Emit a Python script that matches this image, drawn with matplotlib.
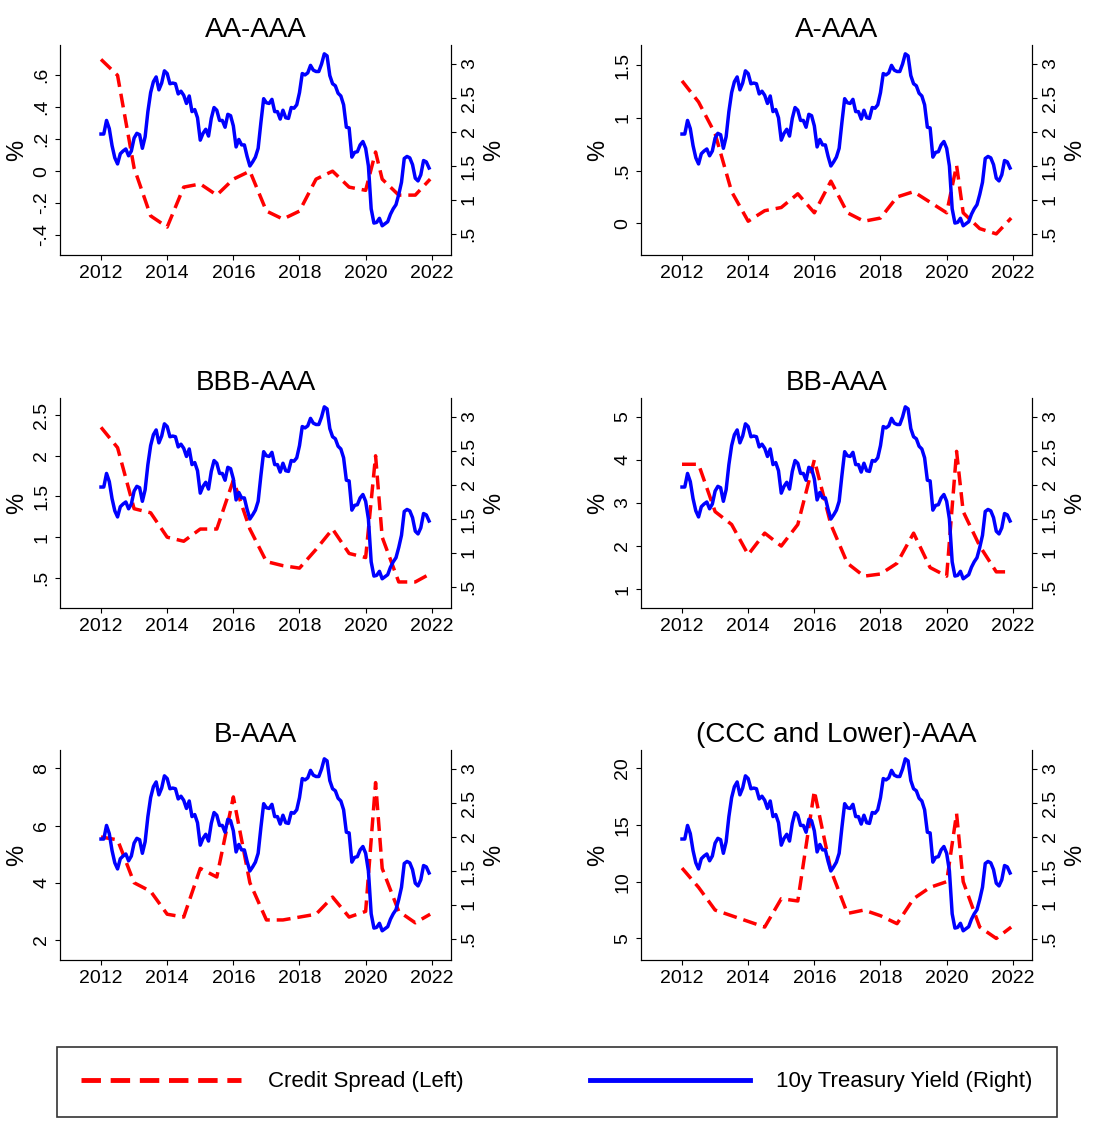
import numpy as np
import matplotlib.pyplot as plt
from matplotlib.ticker import FuncFormatter, MultipleLocator
from matplotlib.lines import Line2D

plt.rcParams['font.family'] = ['Liberation Sans', 'DejaVu Sans']

# 10y Treasury yield, monthly 2012-2021
yield_10y = [1.97, 1.97, 2.17, 2.05, 1.80, 1.62, 1.53, 1.68, 1.72, 1.75, 1.65, 1.72,
             1.91, 1.98, 1.96, 1.76, 1.93, 2.30, 2.58, 2.74, 2.81, 2.62, 2.72, 2.90,
             2.86, 2.71, 2.72, 2.71, 2.56, 2.60, 2.54, 2.42, 2.53, 2.30, 2.33, 2.21,
             1.88, 1.98, 2.04, 1.94, 2.20, 2.36, 2.32, 2.17, 2.17, 2.07, 2.26, 2.24,
             2.09, 1.78, 1.89, 1.81, 1.81, 1.64, 1.50, 1.56, 1.63, 1.76, 2.14, 2.49,
             2.43, 2.42, 2.48, 2.30, 2.30, 2.19, 2.32, 2.21, 2.20, 2.36, 2.35, 2.40,
             2.58, 2.86, 2.84, 2.87, 2.98, 2.91, 2.89, 2.89, 3.00, 3.15, 3.12, 2.83,
             2.71, 2.68, 2.57, 2.53, 2.40, 2.07, 2.06, 1.63, 1.70, 1.71, 1.81, 1.86,
             1.76, 1.50, 0.87, 0.66, 0.67, 0.73, 0.62, 0.65, 0.68, 0.79, 0.87, 0.93,
             1.08, 1.26, 1.61, 1.64, 1.62, 1.52, 1.32, 1.28, 1.37, 1.58, 1.56, 1.47]
yield_dates = 2012 + np.arange(len(yield_10y)) / 12

spread_dates = [2012, 2012.5, 2013, 2013.5, 2014, 2014.5, 2015, 2015.5, 2016, 2016.5,
                2017, 2017.5, 2018, 2018.5, 2019, 2019.5, 2020, 2020.3, 2020.5,
                2021, 2021.5, 2021.95]

titles = ["AA-AAA", "A-AAA", "BBB-AAA", "BB-AAA", "B-AAA", "(CCC and Lower)-AAA"]
spread_aa = [0.70, 0.60, 0.02, -0.28, -0.35, -0.10, -0.08, -0.15, -0.05, 0.00, -0.25,
             -0.30, -0.25, -0.05, 0.00, -0.10, -0.12, 0.12, -0.05, -0.15, -0.15, -0.05]
spread_a = [1.35, 1.15, 0.85, 0.30, 0.02, 0.12, 0.15, 0.28, 0.10, 0.40, 0.10, 0.02,
            0.05, 0.25, 0.30, 0.20, 0.10, 0.55, 0.10, -0.05, -0.10, 0.05]
spread_bbb = [2.35, 2.10, 1.35, 1.30, 1.00, 0.95, 1.10, 1.10, 1.70, 1.10, 0.70, 0.65,
              0.62, 0.85, 1.10, 0.80, 0.75, 2.00, 1.00, 0.45, 0.45, 0.55]
spread_bb = [3.9, 3.9, 2.8, 2.5, 1.8, 2.3, 2.0, 2.5, 4.0, 2.5, 1.6, 1.3, 1.35, 1.6,
             2.3, 1.5, 1.3, 4.2, 2.8, 2.0, 1.4, 1.4]
spread_b = [5.6, 5.5, 4.0, 3.7, 2.9, 2.8, 4.5, 4.2, 7.0, 4.0, 2.7, 2.7, 2.8, 2.9,
            3.5, 2.8, 3.0, 7.5, 4.5, 3.0, 2.6, 2.9]
spread_ccc = [11.2, 9.5, 7.5, 7.0, 6.5, 6.0, 8.5, 8.3, 18.0, 11.0, 7.2, 7.5, 7.0, 6.3,
              8.5, 9.5, 10.0, 16.0, 10.0, 6.0, 5.0, 6.0]
spreads = [spread_aa, spread_a, spread_bbb, spread_bb, spread_b, spread_ccc]
left_steps = [0.2, 0.5, 0.5, 1, 2, 5]
left_lims = [(-0.525, 0.79), (-0.3, 1.69), (0.13, 2.71), (0.56, 5.44), (1.3, 8.64), (3.1, 21.6)]


def stata_fmt(v, pos):
    s = f"{v:g}"
    if s.startswith("0.") or s.startswith("-0."):
        s = s.replace("0.", ".", 1)
    if s == "-0":
        s = "0"
    return s


fig = plt.figure(figsize=(10.99, 11.23), dpi=100)
W, H = 1099, 1123
lefts = [60, 641]
tops = [45, 398, 750]
dash = (0, (4, 2))
for k in range(6):
    r, c = divmod(k, 2)
    ax = fig.add_axes([lefts[c] / W, 1 - (tops[r] + 210) / H, 391 / W, 210 / H])
    ax.plot(spread_dates, spreads[k], color='red', lw=2.5, ls=dash)
    ax.set_ylim(*left_lims[k])
    ax.yaxis.set_major_locator(MultipleLocator(left_steps[k]))
    ax.yaxis.set_major_formatter(FuncFormatter(stata_fmt))
    ax.set_ylabel('%', fontsize=17)
    ax.set_title(titles[k], fontsize=20)
    ax.set_xlim(2010.76, 2022.58)
    ax.set_xticks([2012, 2014, 2016, 2018, 2020, 2022])
    ax.tick_params(axis='x', labelsize=14)
    ax.tick_params(axis='y', labelsize=14, labelrotation=90)
    for t in ax.get_yticklabels():
        t.set_va('center')
    ax.spines['top'].set_visible(False)

    ax2 = ax.twinx()
    ax2.plot(yield_dates, yield_10y, color='blue', lw=2.5)
    ax2.set_ylim(0.19, 3.28)
    ax2.set_yticks([0.5, 1, 1.5, 2, 2.5, 3])
    ax2.yaxis.set_major_formatter(FuncFormatter(stata_fmt))
    ax2.set_ylabel('%', fontsize=17)
    ax2.tick_params(axis='y', labelsize=14, labelrotation=90)
    for t in ax2.get_yticklabels():
        t.set_va('center')
    ax2.spines['top'].set_visible(False)

handles = [Line2D([], [], color='red', lw=3.5, ls=dash),
           Line2D([], [], color='blue', lw=3.5)]
leg = fig.legend(handles, ["Credit Spread (Left)", "10y Treasury Yield (Right)"],
                 loc='upper left', bbox_to_anchor=(57 / W, 1 - 1048 / H, 1000 / W, 0.001),
                 mode='expand', ncol=2, fontsize=16, frameon=True, fancybox=False,
                 edgecolor='black', handlelength=7.2, borderpad=1.1, handletextpad=1.2,
                 borderaxespad=0)
leg.get_frame().set_linewidth(1.2)

fig.savefig("out.png", dpi=100)
